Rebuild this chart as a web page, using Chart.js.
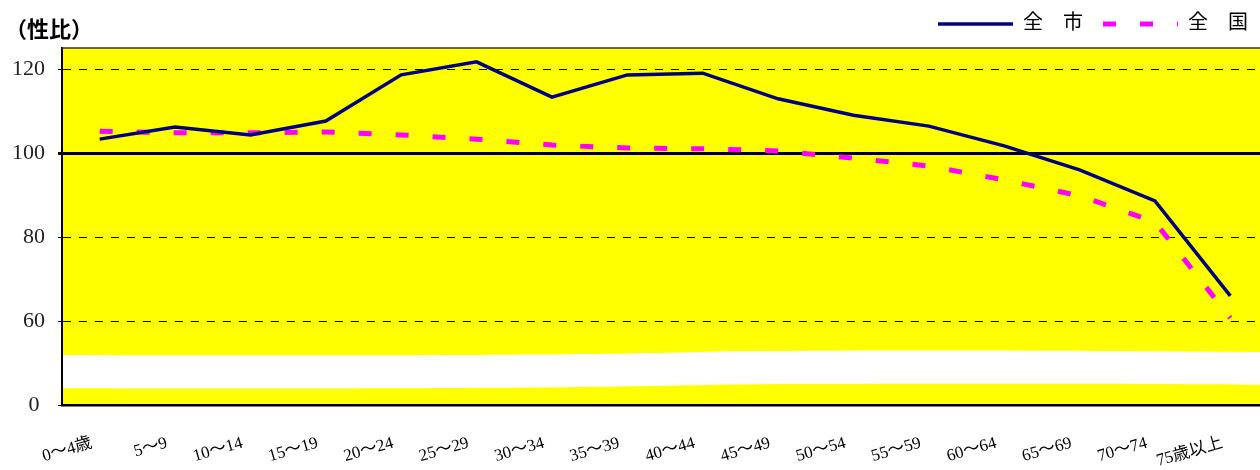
<html>
<head>
<script src="https://cdn.jsdelivr.net/npm/chart.js@4.4.0/dist/chart.umd.min.js"></script>
<style>
  body { margin: 0; overflow: hidden; background: #fff; }
  #wrap { position: relative; width: 1268px; height: 470px; }
  #title { position: absolute; left: 5px; top: 11px; font: bold 22px "Noto Sans CJK JP", sans-serif; color: #000; }
</style>
</head>
<body>
<div id="wrap">
  <div id="title">（性比）</div>
  <canvas id="chart" width="1268" height="470"></canvas>
</div>
<script>
var ageGroups = ['0～4歳', '5～9', '10～14', '15～19', '20～24', '25～29', '30～34', '35～39',
                 '40～44', '45～49', '50～54', '55～59', '60～64', '65～69', '70～74', '75歳以上'];
var cityRatio   = [103.3, 106.2, 104.3, 107.6, 118.6, 121.7, 113.3, 118.6, 119.0, 112.9, 109.0, 106.4, 101.7, 96.0, 88.6, 66.0];
var nationRatio = [105.2, 104.8, 104.8, 105.0, 104.3, 103.3, 101.9, 101.2, 101.0, 100.5, 98.8, 96.9, 93.6, 89.8, 83.6, 60.7];
// axis is broken: the bottom tick stands for 0
var tickValues = [40, 60, 80, 100, 120];
var tickLabels = ['0 ', '60', '80', '100', '120'];

var serif = '"Liberation Serif", "Noto Sans CJK JP", serif';

// legend swatches drawn as small images so the dash shows
function swatch(color, width, dash) {
  var c = document.createElement('canvas');
  c.width = 75; c.height = 8;
  var g = c.getContext('2d');
  g.strokeStyle = color;
  g.lineWidth = width;
  g.setLineDash(dash);
  g.beginPath();
  g.moveTo(0, 4);
  g.lineTo(75, 4);
  g.stroke();
  return c;
}

var plotBackground = {
  id: 'plotBackground',
  beforeDraw: function(chart) {
    var a = chart.chartArea, ctx = chart.ctx, y = chart.scales.y;
    ctx.save();
    ctx.fillStyle = '#ffff00';
    ctx.fillRect(a.left, a.top, a.right - a.left, a.bottom - a.top);
    // white wavy break band
    var w = a.right - a.left;
    ctx.fillStyle = '#ffffff';
    ctx.beginPath();
    ctx.moveTo(a.left, y.getPixelForValue(51.9));
    ctx.bezierCurveTo(a.left + w * 0.3, y.getPixelForValue(51.7), a.left + w * 0.45, y.getPixelForValue(51.9), a.left + w * 0.55, y.getPixelForValue(52.8));
    ctx.bezierCurveTo(a.left + w * 0.75, y.getPixelForValue(53.2), a.left + w * 0.9, y.getPixelForValue(52.8), a.right, y.getPixelForValue(52.6));
    ctx.lineTo(a.right, y.getPixelForValue(44.8));
    ctx.bezierCurveTo(a.left + w * 0.9, y.getPixelForValue(45.0), a.left + w * 0.75, y.getPixelForValue(45.2), a.left + w * 0.55, y.getPixelForValue(44.9));
    ctx.bezierCurveTo(a.left + w * 0.45, y.getPixelForValue(44.2), a.left + w * 0.3, y.getPixelForValue(43.8), a.left, y.getPixelForValue(44.0));
    ctx.closePath();
    ctx.fill();
    ctx.restore();
  },
  afterDraw: function(chart) {
    var a = chart.chartArea, ctx = chart.ctx;
    ctx.save();
    ctx.strokeStyle = '#333';
    ctx.lineWidth = 1.5;
    ctx.beginPath();
    ctx.moveTo(a.left, a.top);
    ctx.lineTo(a.right, a.top);
    ctx.stroke();
    ctx.restore();
  }
};

var legendHeight = {
  id: 'legendHeight',
  beforeInit: function(chart) {
    var fit = chart.legend.fit;
    chart.legend.fit = function() {
      fit.call(this);
      this.height = 54;
    };
  }
};

new Chart(document.getElementById('chart'), {
  type: 'line',
  data: {
    labels: ageGroups,
    datasets: [{
      label: '全　市',
      data: cityRatio,
      borderColor: '#000080',
      borderWidth: 3.5,
      pointRadius: 0,
      pointStyle: swatch('#000080', 3.5, []),
      tension: 0
    }, {
      label: '全　国',
      data: nationRatio,
      borderColor: '#ff00ff',
      borderWidth: 5,
      borderDash: [13, 24],
      borderCapStyle: 'butt',
      pointRadius: 0,
      pointStyle: swatch('#ff00ff', 5, [13, 24]),
      tension: 0
    }]
  },
  options: {
    responsive: false,
    animation: false,
    layout: { padding: { top: -6, left: 0, right: 0, bottom: 0 } },
    plugins: {
      legend: {
        position: 'top',
        align: 'end',
        labels: {
          usePointStyle: true,
          pointStyleWidth: 75,
          padding: 20,
          color: '#000',
          font: { family: serif, size: 20 }
        }
      },
      tooltip: { enabled: false }
    },
    scales: {
      x: {
        offset: true,
        grid: { display: false },
        border: { color: '#000', width: 2.5 },
        afterFit: function(scale) { scale.height = 65; },
        ticks: {
          color: '#000',
          minRotation: 16,
          maxRotation: 16,
          padding: 20,
          labelOffset: -8,
          autoSkip: false,
          font: { family: serif, size: 17 }
        }
      },
      y: {
        min: 40,
        max: 125,
        afterBuildTicks: function(scale) {
          scale.ticks = tickValues.map(function(v) { return { value: v }; });
        },
        afterFit: function(scale) { scale.width = 62; },
        border: {
          color: '#000',
          width: 2,
          dash: function(ctx) {
            var v = ctx.tick ? ctx.tick.value : 0;
            return (v === 100 || v === 40) ? [] : [8, 8];
          }
        },
        grid: {
          tickLength: 4,
          tickColor: '#000',
          color: function(ctx) {
            return ctx.tick && ctx.tick.value === 40 ? 'rgba(0,0,0,0)' : '#000';
          },
          lineWidth: function(ctx) {
            return ctx.tick && ctx.tick.value === 100 ? 3 : 1;
          }
        },
        ticks: {
          color: '#222',
          padding: 13,
          font: { family: serif, size: 22 },
          callback: function(value) {
            var i = tickValues.indexOf(value);
            return i >= 0 ? tickLabels[i] : '';
          }
        }
      }
    }
  },
  plugins: [plotBackground, legendHeight]
});
</script>
</body>
</html>
